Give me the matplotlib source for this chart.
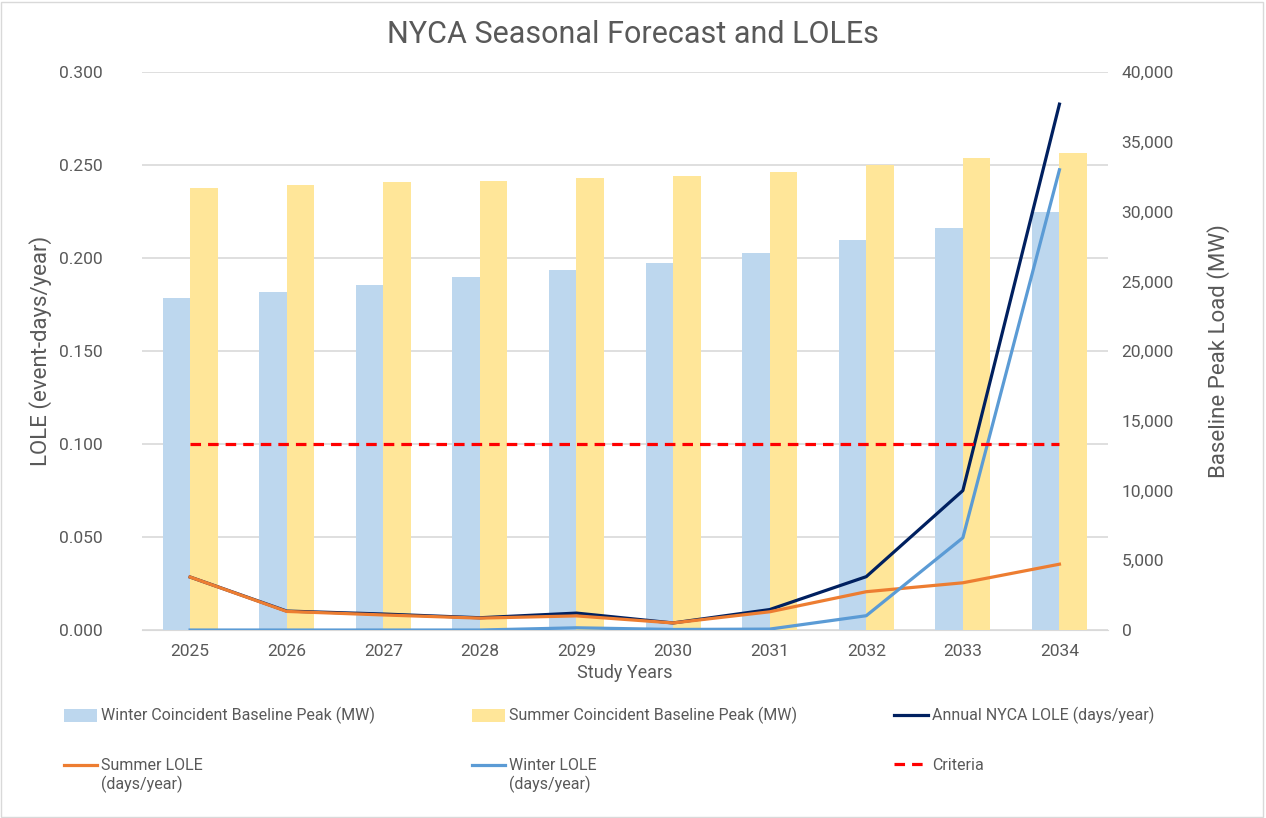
import matplotlib
matplotlib.use('Agg')
import matplotlib.pyplot as plt
import numpy as np
from matplotlib.patches import Rectangle
from matplotlib.ticker import FuncFormatter
from matplotlib.legend_handler import HandlerLine2D

plt.rcParams['font.family'] = ['Roboto', 'DejaVu Sans']
text_grey = '#595959'

### Data
years = ['2025', '2026', '2027', '2028', '2029', '2030', '2031', '2032', '2033', '2034']
winter_peak = [23800, 24250, 24750, 25300, 25800, 26350, 27000, 27950, 28800, 29950]
summer_peak = [31680, 31900, 32100, 32200, 32400, 32550, 32830, 33330, 33840, 34200]
annual_lole = [0.0285, 0.0102, 0.0086, 0.0066, 0.0091, 0.0038, 0.0110, 0.0287, 0.0750, 0.2828]
summer_lole = [0.0285, 0.0100, 0.0081, 0.0064, 0.0076, 0.0038, 0.0098, 0.0206, 0.0254, 0.0354]
winter_lole = [0.0, 0.0, 0.0, 0.0, 0.0012, 0.0003, 0.0005, 0.0077, 0.0496, 0.2475]
criteria = [0.1] * len(years)

x = np.arange(len(years))
bar_w = 0.285


# legend line handle lifted to the first line of a two-line label
class TopLineHandler(HandlerLine2D):
    def create_artists(self, legend, orig_handle, xdescent, ydescent, width, height, fontsize, trans):
        arts = super().create_artists(legend, orig_handle, xdescent, ydescent, width, height, fontsize, trans)
        for a in arts:
            a.set_ydata(np.asarray(a.get_ydata()) + 0.68 * fontsize)
        return arts


fig = plt.figure(figsize=(12.66, 8.18), dpi=100)
ax1 = fig.add_axes([0.112, 0.2298, 0.763, 0.682])
ax2 = ax1.twinx()   # bars (MW)
ax3 = ax1.twinx()   # lines on top (LOLE)

# grid on the base axis, behind the bars
ax1.set_ylim(0, 0.3)
ax1.set_yticks(np.arange(0, 0.301, 0.05))
ax1.yaxis.set_major_formatter(FuncFormatter(lambda v, p: '%.3f' % v))
ax1.grid(axis='y', color='#D9D9D9', linewidth=1.2)
ax1.set_axisbelow(True)

# bars
ax2.bar(x - bar_w / 2, winter_peak, bar_w, color='#BDD7EE',
        label='Winter Coincident Baseline Peak (MW)')
ax2.bar(x + bar_w / 2, summer_peak, bar_w, color='#FFE699',
        label='Summer Coincident Baseline Peak (MW)')
ax2.set_ylim(0, 40000)
ax2.set_yticks(np.arange(0, 40001, 5000))
ax2.yaxis.set_major_formatter(FuncFormatter(lambda v, p: '{:,.0f}'.format(v)))

# lines
ax3.plot(x, annual_lole, color='#002060', lw=2.3, label='Annual NYCA LOLE (days/year)')
summer_line, = ax3.plot(x, summer_lole, color='#ED7D31', lw=2.3, label='Summer LOLE\n(days/year)')
winter_line, = ax3.plot(x, winter_lole, color='#5B9BD5', lw=2.3, label='Winter LOLE\n(days/year)')
ax3.plot(x, criteria, color='#FF0000', lw=2.3, linestyle=(0, (3.3, 2.2)), label='Criteria')
ax3.set_ylim(0, 0.3)
ax3.set_yticks([])

ax1.set_xlim(-0.5, len(years) - 0.5)
ax1.set_xticks(x)
ax1.set_xticklabels(years)

for ax in (ax1, ax2, ax3):
    for s in ax.spines.values():
        s.set_visible(False)
    ax.tick_params(length=0, colors=text_grey, labelsize=12.5)
ax1.spines['bottom'].set_visible(True)
ax1.spines['bottom'].set_color('#D9D9D9')
ax1.tick_params(axis='x', pad=10)
ax1.tick_params(axis='y', pad=28)
ax2.tick_params(axis='y', pad=10)

ax1.set_xlabel('Study Years', fontsize=13, color=text_grey, labelpad=4)
ax1.set_ylabel('LOLE (event-days/year)', fontsize=16, color=text_grey, labelpad=5)
ax2.set_ylabel('Baseline Peak Load (MW)', fontsize=16, color=text_grey, labelpad=24)
fig.text(0.5, 0.958, 'NYCA Seasonal Forecast and LOLEs', ha='center', va='center',
         fontsize=22, color=text_grey)

h2, l2 = ax2.get_legend_handles_labels()
h3, l3 = ax3.get_legend_handles_labels()
handles = h2 + h3
labels = l2 + l3
# column-major order for ncol=3 with 2 rows
order = [0, 3, 1, 4, 2, 5]
leg = fig.legend([handles[i] for i in order], [labels[i] for i in order],
                 ncol=3, loc='upper left', bbox_to_anchor=(0.039, 0.153),
                 frameon=False, fontsize=11.5, labelcolor=text_grey,
                 handlelength=2.1, handleheight=0.9, handletextpad=0.25,
                 columnspacing=6.05, labelspacing=2.1,
                 handler_map={summer_line: TopLineHandler(), winter_line: TopLineHandler()})

fig.add_artist(Rectangle((0.001, 0.001), 0.997, 0.997, transform=fig.transFigure,
                         fill=False, edgecolor='#D9D9D9', linewidth=1))

fig.savefig('out.png', dpi=100)
